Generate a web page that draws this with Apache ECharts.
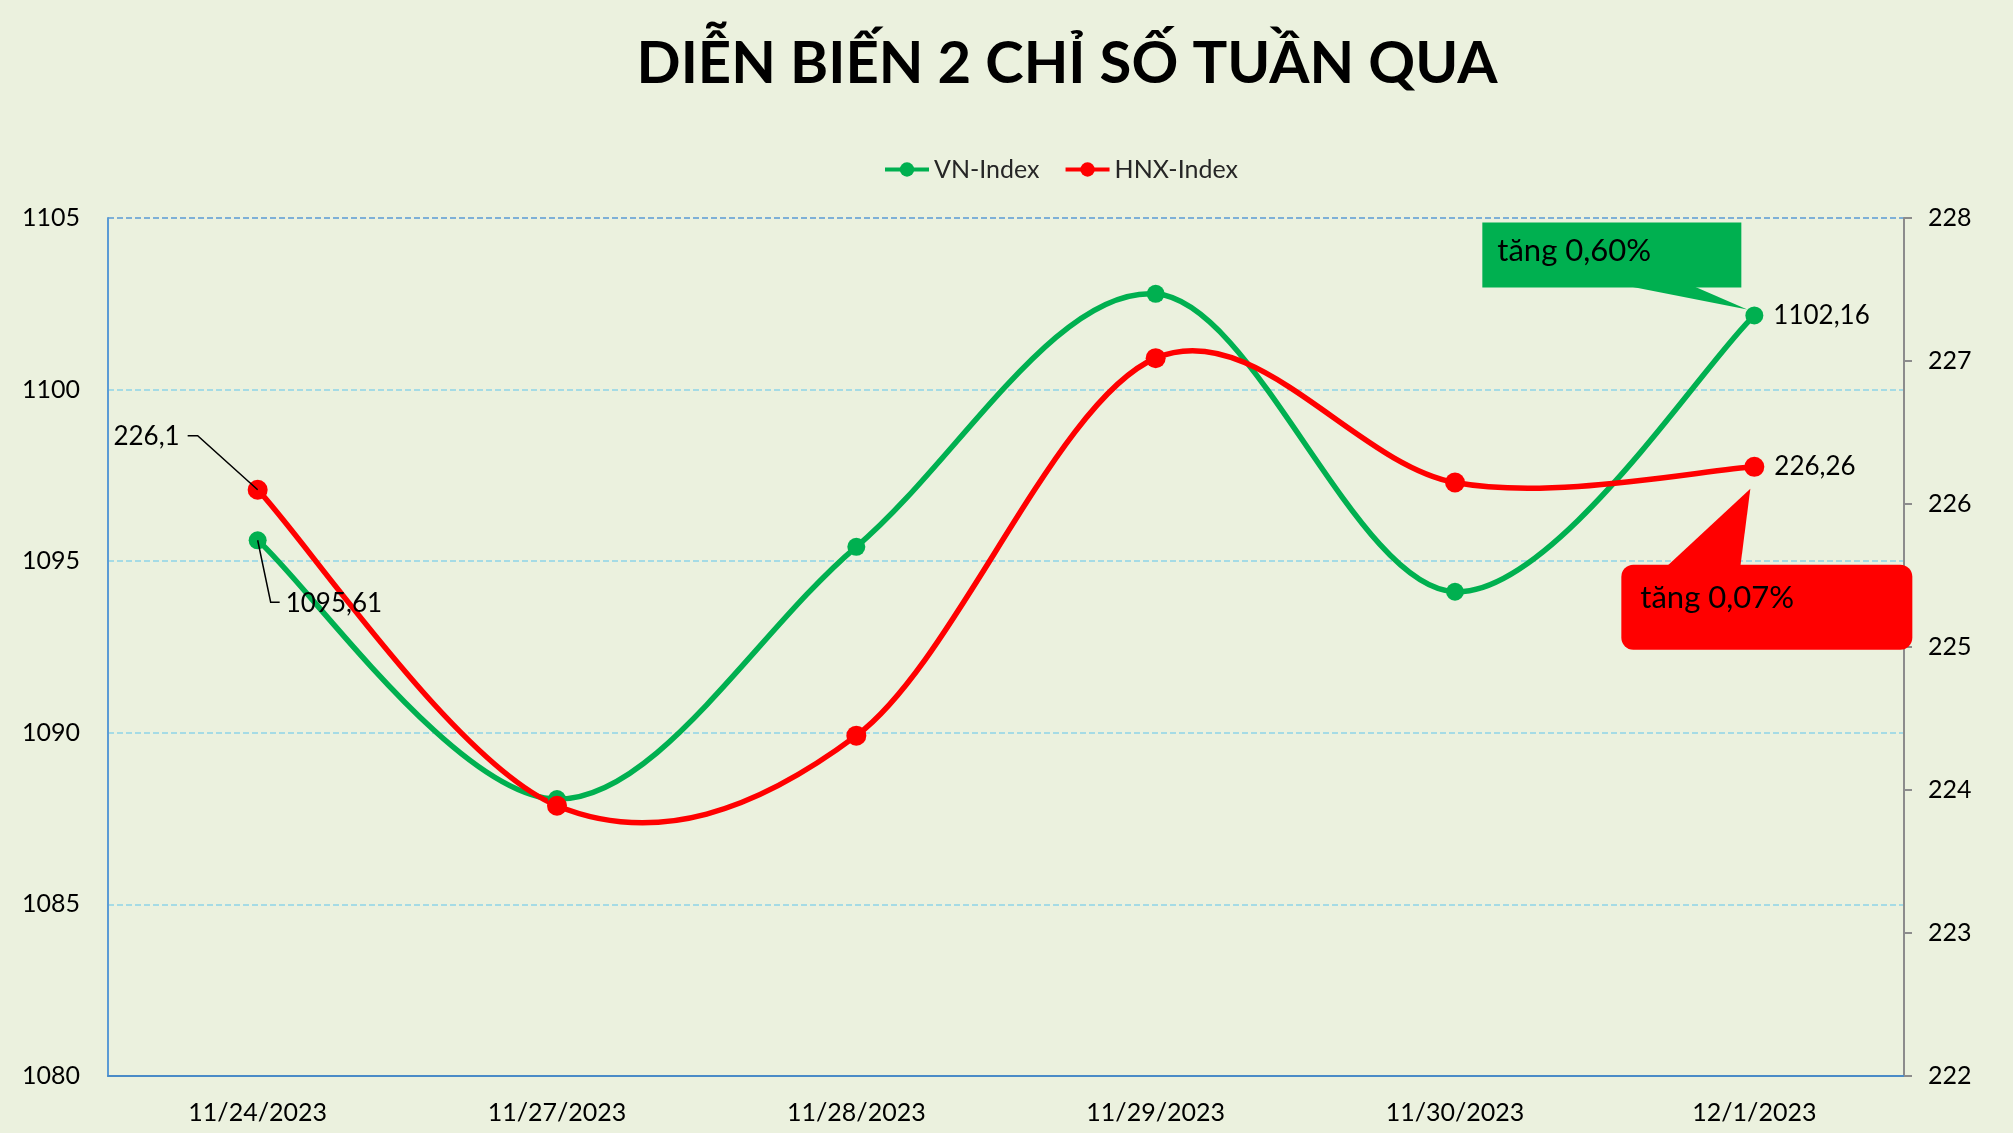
<!DOCTYPE html>
<html><head><meta charset="utf-8">
<script src="https://cdn.jsdelivr.net/npm/echarts@6/dist/echarts.min.js"></script>
<style>html,body{margin:0;padding:0;background:#EBF1DE;} #c{width:2013px;height:1133px;}</style>
</head><body><div id="c"></div>
<script>
const titleText = 'DIỄN BIẾN 2 CHỈ SỐ TUẦN QUA';
const seriesNames = ['VN-Index', 'HNX-Index'];
const categories = ['11/24/2023', '11/27/2023', '11/28/2023', '11/29/2023', '11/30/2023', '12/1/2023'];
const vnIndex = [1095.61, 1088.07, 1095.42, 1102.79, 1094.11, 1102.16];
const hnxIndex = [226.10, 223.89, 224.38, 227.02, 226.15, 226.26];
const vnChange = 'tăng 0,60%';
const hnxChange = 'tăng 0,07%';
const leftAxisRange = [1080, 1105, 5];
const rightAxisRange = [222, 228, 1];

const FONT = 'Lato';
const GREEN = '#00B050';
const RED = '#FF0000';
const LW = 5.5;
const fmt = v => String(v).replace('.', ',');
const last = categories.length - 1;

const chart = echarts.init(document.getElementById('c'), null, {renderer: 'canvas'});

function mkData(arr) {
  return arr.map((v, i) => i === last ? {value: v, label: {show: true}} : v);
}

// smooth curve (Excel-like Catmull-Rom) drawn through the axes' coordinate system
function curveSeries(name, values, yIdx, color, z) {
  const n = values.length;
  const clampIdx = j => Math.max(0, Math.min(n - 1, j));
  return {
    type: 'custom', name: name + ' curve', coordinateSystem: 'cartesian2d', yAxisIndex: yIdx,
    data: values.map((v, i) => [i, v]), z: z, silent: true, animation: false,
    renderItem: (params, api) => {
      const i = params.dataIndex;
      if (i >= n - 1) return null;
      const P = j => { const k = clampIdx(j); return api.coord([k, values[k]]); };
      const p0 = P(i - 1), p1 = P(i), p2 = P(i + 1), p3 = P(i + 2);
      return {
        type: 'bezierCurve',
        shape: {
          x1: p1[0], y1: p1[1], x2: p2[0], y2: p2[1],
          cpx1: p1[0] + (p2[0] - p0[0]) / 6, cpy1: p1[1] + (p2[1] - p0[1]) / 6,
          cpx2: p2[0] - (p3[0] - p1[0]) / 6, cpy2: p2[1] - (p3[1] - p1[1]) / 6
        },
        style: {stroke: color, lineWidth: LW, fill: 'none', lineCap: 'round'}
      };
    }
  };
}

const option = {
  backgroundColor: '#EBF1DE',
  animation: false,
  textStyle: {fontFamily: FONT},
  legend: {
    left: 878, top: 152,
    itemWidth: 44, itemHeight: 18, itemGap: 24,
    textStyle: {fontFamily: FONT, fontSize: 25, color: '#262626'},
    data: [
      {name: seriesNames[0], lineStyle: {color: GREEN, width: 4, opacity: 1}, itemStyle: {color: GREEN}},
      {name: seriesNames[1], lineStyle: {color: RED, width: 4, opacity: 1}, itemStyle: {color: RED}}
    ]
  },
  grid: {left: 108, right: 109, top: 218, bottom: 57, containLabel: false},
  xAxis: {
    type: 'category', data: categories, boundaryGap: true,
    axisLine: {lineStyle: {color: '#4A8BC7', width: 2}},
    axisTick: {show: false},
    axisLabel: {fontFamily: FONT, fontSize: 25, color: '#000', margin: 24}
  },
  yAxis: [{
    type: 'value', min: leftAxisRange[0], max: leftAxisRange[1], interval: leftAxisRange[2],
    axisLine: {show: true, lineStyle: {color: '#5B9BD5', width: 2}},
    axisTick: {show: false},
    axisLabel: {fontFamily: FONT, fontSize: 25, color: '#000', margin: 28, formatter: v => String(v)},
    splitLine: {show: true, lineStyle: {color: ['#8FD3E8', '#8FD3E8', '#8FD3E8', '#8FD3E8', '#8FD3E8', '#5B9BD5'], type: [6, 3], width: 1.6}}
  }, {
    type: 'value', min: rightAxisRange[0], max: rightAxisRange[1], interval: rightAxisRange[2],
    position: 'right',
    axisLine: {show: true, lineStyle: {color: '#8C8C8C', width: 2}},
    axisTick: {show: true, inside: false, length: 8, lineStyle: {color: '#8C8C8C', width: 2}},
    axisLabel: {fontFamily: FONT, fontSize: 25, color: '#000', margin: 24, formatter: v => String(v)},
    splitLine: {show: false}
  }],
  series: [
    curveSeries(seriesNames[0], vnIndex, 0, GREEN, 2),
    curveSeries(seriesNames[1], hnxIndex, 1, RED, 2.5),
    {
      name: seriesNames[0], type: 'line', yAxisIndex: 0, smooth: false,
      data: mkData(vnIndex),
      symbol: 'circle', symbolSize: 18,
      itemStyle: {color: GREEN},
      lineStyle: {color: GREEN, width: LW, opacity: 0},
      label: {show: false, position: 'right', distance: 10, fontFamily: FONT, fontSize: 26, color: '#000', formatter: p => fmt(p.value)},
      z: 3
    }, {
      name: seriesNames[1], type: 'line', yAxisIndex: 1, smooth: false,
      data: mkData(hnxIndex),
      symbol: 'circle', symbolSize: 20,
      itemStyle: {color: RED},
      lineStyle: {color: RED, width: LW, opacity: 0},
      label: {show: false, position: 'right', distance: 10, fontFamily: FONT, fontSize: 26, color: '#000', formatter: p => fmt(p.value)},
      z: 4
    }
  ]
};
chart.setOption(option);

const pv0 = chart.convertToPixel({seriesIndex: 2}, [0, vnIndex[0]]);
const ph0 = chart.convertToPixel({seriesIndex: 3}, [0, hnxIndex[0]]);
const pvL = chart.convertToPixel({seriesIndex: 2}, [last, vnIndex[last]]);
const phL = chart.convertToPixel({seriesIndex: 3}, [last, hnxIndex[last]]);

const graphics = [
  {type: 'text', x: 1067, y: 64, z: 10,
   style: {text: titleText, fontFamily: FONT, fontWeight: 'bold', fontSize: 58, fill: '#000', align: 'center', verticalAlign: 'middle'}},
  // leader for first HNX value
  {type: 'polyline', z: 10, shape: {points: [[ph0[0], ph0[1]], [ph0[0] - 60, ph0[1] - 54], [ph0[0] - 70, ph0[1] - 54]]},
   style: {stroke: '#000', lineWidth: 1.5, fill: null}},
  {type: 'text', x: ph0[0] - 78, y: ph0[1] - 53, z: 10,
   style: {text: fmt(hnxIndex[0]), fontFamily: FONT, fontSize: 26, fill: '#000', align: 'right', verticalAlign: 'middle'}},
  // leader for first VN value
  {type: 'polyline', z: 10, shape: {points: [[pv0[0], pv0[1]], [pv0[0] + 13, pv0[1] + 62], [pv0[0] + 22, pv0[1] + 62]]},
   style: {stroke: '#000', lineWidth: 1.5, fill: null}},
  {type: 'text', x: pv0[0] + 28, y: pv0[1] + 63, z: 10,
   style: {text: fmt(vnIndex[0]), fontFamily: FONT, fontSize: 26, fill: '#000', align: 'left', verticalAlign: 'middle'}},
  // green callout
  {type: 'rect', z: 10, shape: {x: pvL[0] - 272, y: pvL[1] - 93, width: 259, height: 65}, style: {fill: GREEN}},
  {type: 'polygon', z: 10, shape: {points: [[pvL[0] - 124, pvL[1] - 29], [pvL[0] - 60, pvL[1] - 29], [pvL[0] - 7, pvL[1] - 6]]}, style: {fill: GREEN}},
  {type: 'text', x: pvL[0] - 257, y: pvL[1] - 64, z: 11,
   style: {text: vnChange, fontFamily: FONT, fontSize: 31, fill: '#000', align: 'left', verticalAlign: 'middle'}},
  // red callout
  {type: 'rect', z: 10, shape: {x: phL[0] - 133, y: phL[1] + 98, width: 291, height: 85, r: 12}, style: {fill: RED}},
  {type: 'polygon', z: 10, shape: {points: [[phL[0] - 88, phL[1] + 100], [phL[0] - 14, phL[1] + 100], [phL[0] - 4, phL[1] + 22]]}, style: {fill: RED}},
  {type: 'text', x: phL[0] - 114, y: phL[1] + 131, z: 11,
   style: {text: hnxChange, fontFamily: FONT, fontSize: 31, fill: '#000', align: 'left', verticalAlign: 'middle'}}
];
chart.setOption({graphic: graphics});
</script>
</body></html>
